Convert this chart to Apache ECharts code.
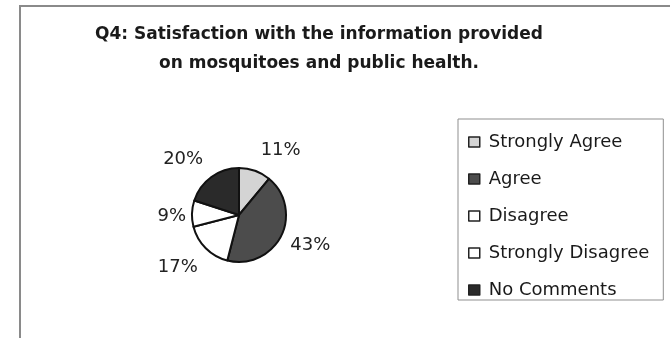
<!DOCTYPE html>
<html>
<head>
<meta charset="utf-8">
<script src="https://cdn.jsdelivr.net/npm/echarts@6/dist/echarts.min.js"></script>
<style>html,body{margin:0;padding:0;background:#fff;}#c{width:670px;height:338px;}</style>
</head>
<body>
<div id="c"></div>
<script>
const titleText = "Q4: Satisfaction with the information provided\non mosquitoes and public health.";
const categories = ["Strongly Agree", "Agree", "Disagree", "Strongly Disagree", "No Comments"];
const values = [11, 43, 17, 9, 20];

// styling / layout (not data)
const colors = ["#d4d4d4", "#4c4c4c", "#ffffff", "#ffffff", "#2a2a2a"];
const labelNudges = [[-8, -7], [-12, 3], [11, 9], [17, 3], [9, -6]];

const chart = echarts.init(document.getElementById('c'), null, {renderer: 'canvas'});
chart.setOption({
  animation: false,
  backgroundColor: '#ffffff',
  title: {
    text: titleText,
    left: 314,
    textAlign: 'center',
    top: 15,
    textStyle: {fontFamily: 'DejaVu Sans', fontWeight: 'bold', fontSize: 17, lineHeight: 29, color: '#1a1a1a'}
  },
  graphic: [{
    type: 'polyline',
    shape: {points: [[20, 338], [20, 6], [670, 6]]},
    style: {stroke: '#8a8a8a', lineWidth: 2, fill: null}
  }],
  legend: {
    orient: 'vertical',
    left: 458,
    top: 119,
    padding: [14, 14, 1, 10],
    borderColor: '#8f8f8f',
    borderWidth: 1,
    itemWidth: 11,
    itemHeight: 10,
    itemGap: 19,
    icon: 'rect',
    selectedMode: false,
    textStyle: {fontFamily: 'DejaVu Sans', fontSize: 18, lineHeight: 18, color: '#1a1a1a', padding: [0, 0, 0, 4]},
    itemStyle: {borderColor: '#222', borderWidth: 1.5},
    data: categories
  },
  series: [{
    type: 'pie',
    center: [239, 215],
    radius: [0, 47],
    startAngle: 90,
    clockwise: true,
    data: categories.map((n, i) => ({
      name: n,
      value: values[i],
      itemStyle: {color: colors[i]},
      label: {offset: labelNudges[i]}
    })),
    itemStyle: {borderColor: '#111', borderWidth: 2},
    label: {
      show: true,
      position: 'outside',
      formatter: '{c}%',
      fontFamily: 'DejaVu Sans',
      fontSize: 18,
      color: '#222'
    },
    labelLine: {show: false, length: 14, length2: 4},
    emphasis: {disabled: true}
  }]
});
</script>
</body>
</html>
